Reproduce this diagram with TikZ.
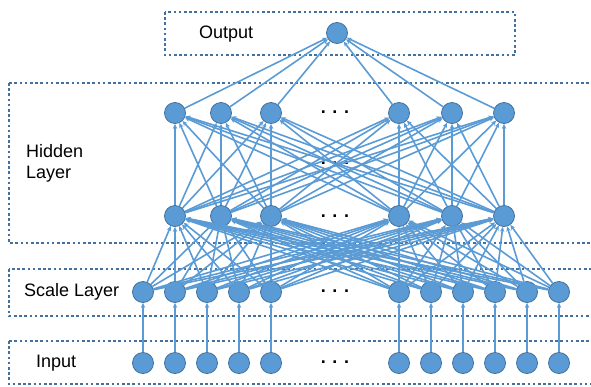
\documentclass[tikz,border=0pt]{standalone}
\usepackage{fontspec}
\setmainfont{Liberation Sans}
\usetikzlibrary{arrows.meta}
\definecolor{nodefill}{HTML}{5B9BD5}
\definecolor{nodeline}{HTML}{41719C}
\definecolor{boxline}{HTML}{41719C}
\begin{document}
\begin{tikzpicture}[x=1pt,y=-1pt,
  neuron/.style={circle,fill=nodefill,draw=nodeline,line width=0.8pt,minimum size=21pt,inner sep=0pt},
  link/.style={draw=nodefill,line width=1.6pt,-{Stealth[length=5pt,width=4.5pt]}},
  layerbox/.style={draw=boxline,line width=2.7pt,dash pattern=on 2.6pt off 2.6pt},
  caption/.style={font=\fontsize{18}{21}\selectfont,text=black,inner sep=0pt},
  dotsrow/.style={font=\fontsize{18}{21}\selectfont\bfseries,inner sep=0pt}
]
\useasboundingbox (0,0) rectangle (591,386);
\clip (0,0) rectangle (591,386);

% layer frames
\draw[layerbox] (165,12) rectangle (515,55);
\draw[layerbox] (9,83) rectangle (620,243);
\draw[layerbox] (9,269) rectangle (620,316);
\draw[layerbox] (9,341) rectangle (620,384);

% layer captions
\node[caption,anchor=west] (capout) at (199,34) {Output};
\node[caption,anchor=west,align=left] (caphid) at (26,163) {Hidden\\Layer};
\node[caption,anchor=west] (capscale) at (24,292) {Scale Layer};
\node[caption,anchor=west] (capin) at (36,363) {Input};

% ellipses standing for omitted units
\node[dotsrow] (dtop) at (335,112) {. . .};
\node[dotsrow] (dmid) at (335,163) {. . .};
\node[dotsrow] (dbot) at (335,216) {. . .};
\node[dotsrow] (dscale) at (335,291) {. . .};
\node[dotsrow] (din) at (335,362) {. . .};

% units
\foreach \x [count=\i] in {143,175,207,239,271,399,431,463,495,527,559} {
  \node[neuron] (in\i) at (\x,363) {};
  \node[neuron] (sc\i) at (\x,292) {};
}
\foreach \x [count=\i] in {175,221,271,399,452,504} {
  \node[neuron] (hb\i) at (\x,216) {};
  \node[neuron] (ht\i) at (\x,113) {};
}
\node[neuron] (out) at (337,33) {};

% connections
\foreach \i in {1,...,11} {
  \draw[link] (in\i) -- (sc\i);
  \foreach \j in {1,...,6} \draw[link] (sc\i) -- (hb\j);
}
\foreach \i in {1,...,6} {
  \foreach \j in {1,...,6} \draw[link] (hb\i) -- (ht\j);
  \draw[link] (ht\i) -- (out);
}
\end{tikzpicture}
\end{document}
